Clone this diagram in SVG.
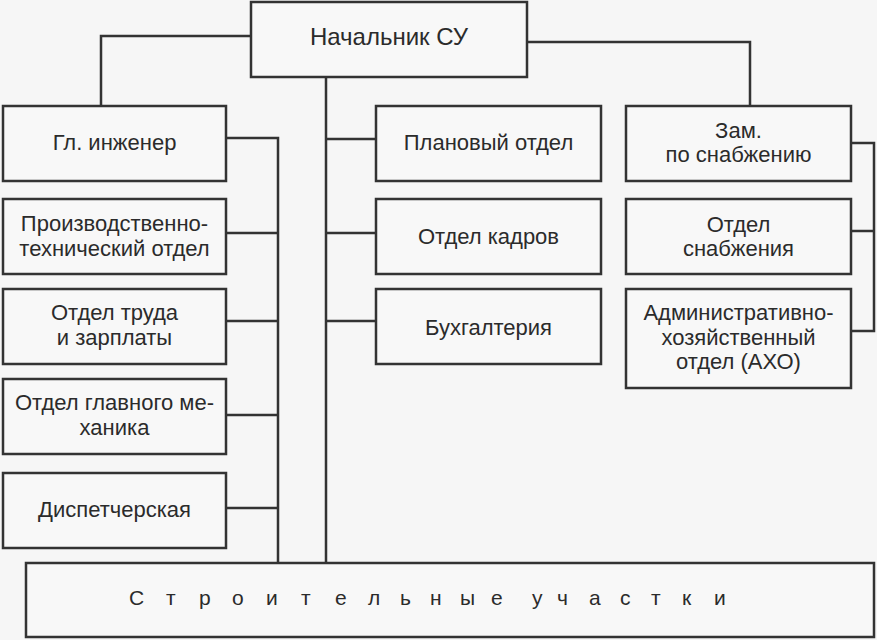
<svg xmlns="http://www.w3.org/2000/svg" width="877" height="640" viewBox="0 0 877 640">
<style>
.bg{fill:#f6f6f6}
.box{fill:#f8f8f8;stroke:#333;stroke-width:2.5}
.con{fill:none;stroke:#333;stroke-width:2.5}
text{font-family:"Liberation Sans",Arial,sans-serif;font-size:22px;fill:#2b2b2b;text-anchor:middle}
.big{font-size:24px}
.sp{font-size:21px;text-anchor:start}
</style>
<rect class="bg" x="0" y="0" width="877" height="640"/>
<g id="connectors">
<path class="con" d="M251,36 H101 V106"/>
<path class="con" d="M527,42 H750 V106"/>
<path class="con" d="M226,138 H278 V563"/>
<path class="con" d="M226,233 H278"/>
<path class="con" d="M226,321 H278"/>
<path class="con" d="M226,415 H278"/>
<path class="con" d="M226,508 H278"/>
<path class="con" d="M326,77 V563"/>
<path class="con" d="M326,139 H376"/>
<path class="con" d="M326,233 H376"/>
<path class="con" d="M326,321 H376"/>
<path class="con" d="M851,143 H874 V331 H851"/>
<path class="con" d="M851,231 H874"/>
</g>
<g id="chief"><rect class="box" x="251" y="2" width="276" height="75"/><text class="big" x="389" y="45">Начальник СУ</text></g>
<g id="gl_ing"><rect class="box" x="3" y="106" width="223" height="75"/><text x="114.5" y="150">Гл. инженер</text></g>
<g id="pto"><rect class="box" x="3" y="199" width="223" height="75"/><text x="114.5" y="231">Производственно-</text><text x="114.5" y="256">технический отдел</text></g>
<g id="otz"><rect class="box" x="3" y="289" width="223" height="75"/><text x="114.5" y="320">Отдел труда</text><text x="114.5" y="345">и зарплаты</text></g>
<g id="ogm"><rect class="box" x="3" y="379" width="223" height="75"/><text x="114.5" y="410">Отдел главного ме-</text><text x="114.5" y="435">ханика</text></g>
<g id="disp"><rect class="box" x="3" y="473" width="223" height="75"/><text x="114.5" y="517">Диспетчерская</text></g>
<g id="plan"><rect class="box" x="376" y="106" width="225" height="75"/><text x="488.5" y="150">Плановый отдел</text></g>
<g id="kadry"><rect class="box" x="376" y="199" width="225" height="75"/><text x="488.5" y="244">Отдел кадров</text></g>
<g id="buh"><rect class="box" x="376" y="289" width="225" height="75"/><text x="488.5" y="335">Бухгалтерия</text></g>
<g id="zam"><rect class="box" x="626" y="106" width="225" height="75"/><text x="738.5" y="138">Зам.</text><text x="738.5" y="162">по снабжению</text></g>
<g id="snab"><rect class="box" x="626" y="199" width="225" height="75"/><text x="738.5" y="232">Отдел</text><text x="738.5" y="256">снабжения</text></g>
<g id="axo"><rect class="box" x="626" y="289" width="225" height="99"/><text x="738.5" y="320">Административно-</text><text x="738.5" y="345">хозяйственный</text><text x="738.5" y="369">отдел (АХО)</text></g>
<g id="uchastki"><rect class="box" x="26" y="563" width="848" height="74"/><text class="sp" x="129 166 199 232 266 301 335 368 400 430 460 491 514 532 557 589 620 651 682 714" y="605">Строительные участки</text></g>
</svg>
